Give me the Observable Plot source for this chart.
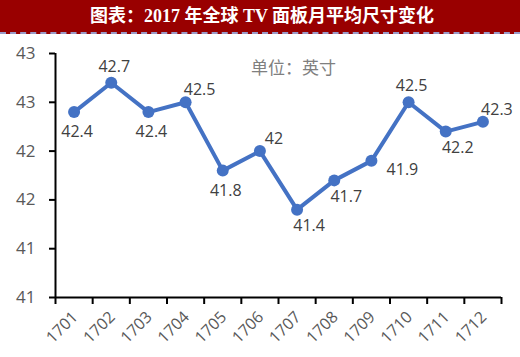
<!DOCTYPE html>
<html>
<head>
<meta charset="utf-8">
<script src="https://cdn.jsdelivr.net/npm/d3@7"></script>
<script src="https://cdn.jsdelivr.net/npm/@observablehq/plot@0.6"></script>
<style>
  html, body { margin: 0; padding: 0; background: #fff; }
  #wrap { width: 520px; }
  #title {
    height: 32px; line-height: 32px; background: #990000; color: #fff;
    text-align: center; font-size: 18px; font-weight: bold;
    font-family: "Liberation Serif", "Noto Sans CJK SC", serif;
    border-bottom: 2px dashed #9a9ac8; box-sizing: content-box;
    padding-left: 4px;
  }
  #chart svg { display: block; }
</style>
</head>
<body>
<div id="wrap">
  <div id="title">图表：2017 年全球 TV 面板月平均尺寸变化</div>
  <div id="chart"></div>
</div>
<script>
const months = ["1701","1702","1703","1704","1705","1706","1707","1708","1709","1710","1711","1712"];
const sizes = [42.4, 42.7, 42.4, 42.5, 41.8, 42.0, 41.4, 41.7, 41.9, 42.5, 42.2, 42.3];
const labelPlacement = ["below","above","below","aboveRight","below","aboveRight","belowRight","belowRight","right","above","belowRight","aboveRight"];
const yTicks = [40.5, 41, 41.5, 42, 42.5, 43];
const unitText = "单位：英寸";

const offsets = {
  below: [3, 20], above: [3, -16], aboveRight: [14, -12],
  belowRight: [12, 16], right: [31, 9]
};

const data = months.map((m, i) => ({i: i + 0.5, month: m, v: sizes[i], p: labelPlacement[i]}));

const labelMarks = Object.entries(offsets).map(([k, [dx, dy]]) =>
  Plot.text(data.filter(d => d.p === k), {
    x: "i", y: "v", text: d => String(d.v), dx, dy,
    fontSize: 16, fill: "#404040", lineAnchor: "middle"
  })
);

const chart = Plot.plot({
  width: 520,
  height: 324,
  marginTop: 19,
  marginBottom: 61,
  marginLeft: 55,
  marginRight: 19,
  style: { fontFamily: "'Open Sans', sans-serif", background: "#fff" },
  x: { domain: [0, 12], axis: null, label: null },
  y: { domain: [40.5, 43], axis: null, label: null },
  marks: [
    Plot.axisY({ ticks: yTicks, tickFormat: d => String(Math.round(d)), tickSize: 6, tickPadding: 14, label: null,
      stroke: "#000", strokeWidth: 2, strokeOpacity: 1, fontSize: 17, color: "#595959" }),
    Plot.axisX({ ticks: d3.range(13), tickFormat: () => "", tickSize: 7, label: null, stroke: "#000", strokeWidth: 2, strokeOpacity: 1 }),
    Plot.axisX({ ticks: data.map(d => d.i), tickFormat: t => months[Math.round(t - 0.5)], tickSize: 0, tickPadding: 17,
      tickRotate: -45, fontSize: 16, color: "#595959", label: null, dx: 1 }),
    Plot.ruleX([0], { y1: 40.5, y2: 43, stroke: "#000", strokeWidth: 2 }),
    Plot.ruleY([40.5], { x1: 0, x2: 12, stroke: "#000", strokeWidth: 2 }),
    Plot.line(data, { x: "i", y: "v", stroke: "#4472C4", strokeWidth: 4 }),
    Plot.dot(data, { x: "i", y: "v", r: 6, fill: "#4472C4", stroke: "none" }),
    ...labelMarks,
    Plot.text([unitText], { frameAnchor: "top", dx: 15, dy: 15, text: d => d, fontSize: 17, fill: "#7f7f7f",
      fontFamily: "'Noto Sans CJK SC', sans-serif", lineAnchor: "middle" })
  ]
});
document.getElementById("chart").appendChild(chart);
</script>
</body>
</html>
